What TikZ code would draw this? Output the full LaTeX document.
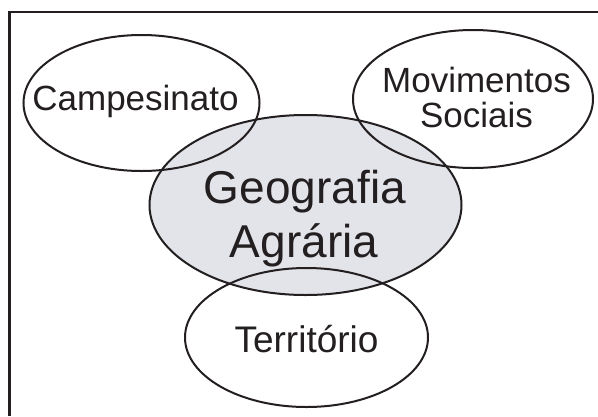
\documentclass[tikz,border=0pt]{standalone}
\usepackage{fontspec}
\setmainfont{Liberation Sans}
\usetikzlibrary{shapes.geometric}
\definecolor{agrgray}{RGB}{227,228,233}
\definecolor{inkc}{RGB}{35,31,32}
\begin{document}
\begin{tikzpicture}[x=1pt,y=-1pt,
  oval/.style={ellipse,draw=inkc,line width=2pt,inner sep=0pt},
  lbl/.style={anchor=base,inner sep=0pt,text=inkc}]
\useasboundingbox (0,0) rectangle (598,416);
\fill[white] (0,0) rectangle (598,416);
% frame (only left and top edges visible)
\coordinate (fbl) at (9.5,416);
\coordinate (ftl) at (9.5,12);
\coordinate (ftr) at (598,12);
\draw[inkc,line width=3pt] (fbl) -- (ftl);
\draw[inkc,line width=2pt] (8,12) -- (ftr);
% central ellipse
\node[oval,fill=agrgray,minimum width=312pt,minimum height=180pt] (geo) at (305.5,205) {};
% other ellipses
\node[oval,minimum width=236pt,minimum height=136pt] (camp) at (141.5,103) {};
\node[oval,minimum width=240pt,minimum height=138pt] (mov) at (473,99) {};
\node[oval,minimum width=243pt,minimum height=139pt] (terr) at (306.5,337.5) {};
% labels
\node[lbl,font=\fontsize{35}{35}\selectfont] (tcamp) at (135.5,110) {Campesinato};
\node[lbl,font=\fontsize{35}{35}\selectfont] (tmov1) at (476.5,92) {Movimentos};
\node[lbl,font=\fontsize{35}{35}\selectfont] (tmov2) at (476.5,127) {Sociais};
\node[lbl,font=\fontsize{46}{46}\selectfont] (tgeo1) at (305,203) {Geografia};
\node[lbl,font=\fontsize{46}{46}\selectfont] (tgeo2) at (304,257) {Agrária};
\node[lbl,font=\fontsize{37}{37}\selectfont] (tterr) at (306.5,352) {Território};
\end{tikzpicture}
\end{document}
